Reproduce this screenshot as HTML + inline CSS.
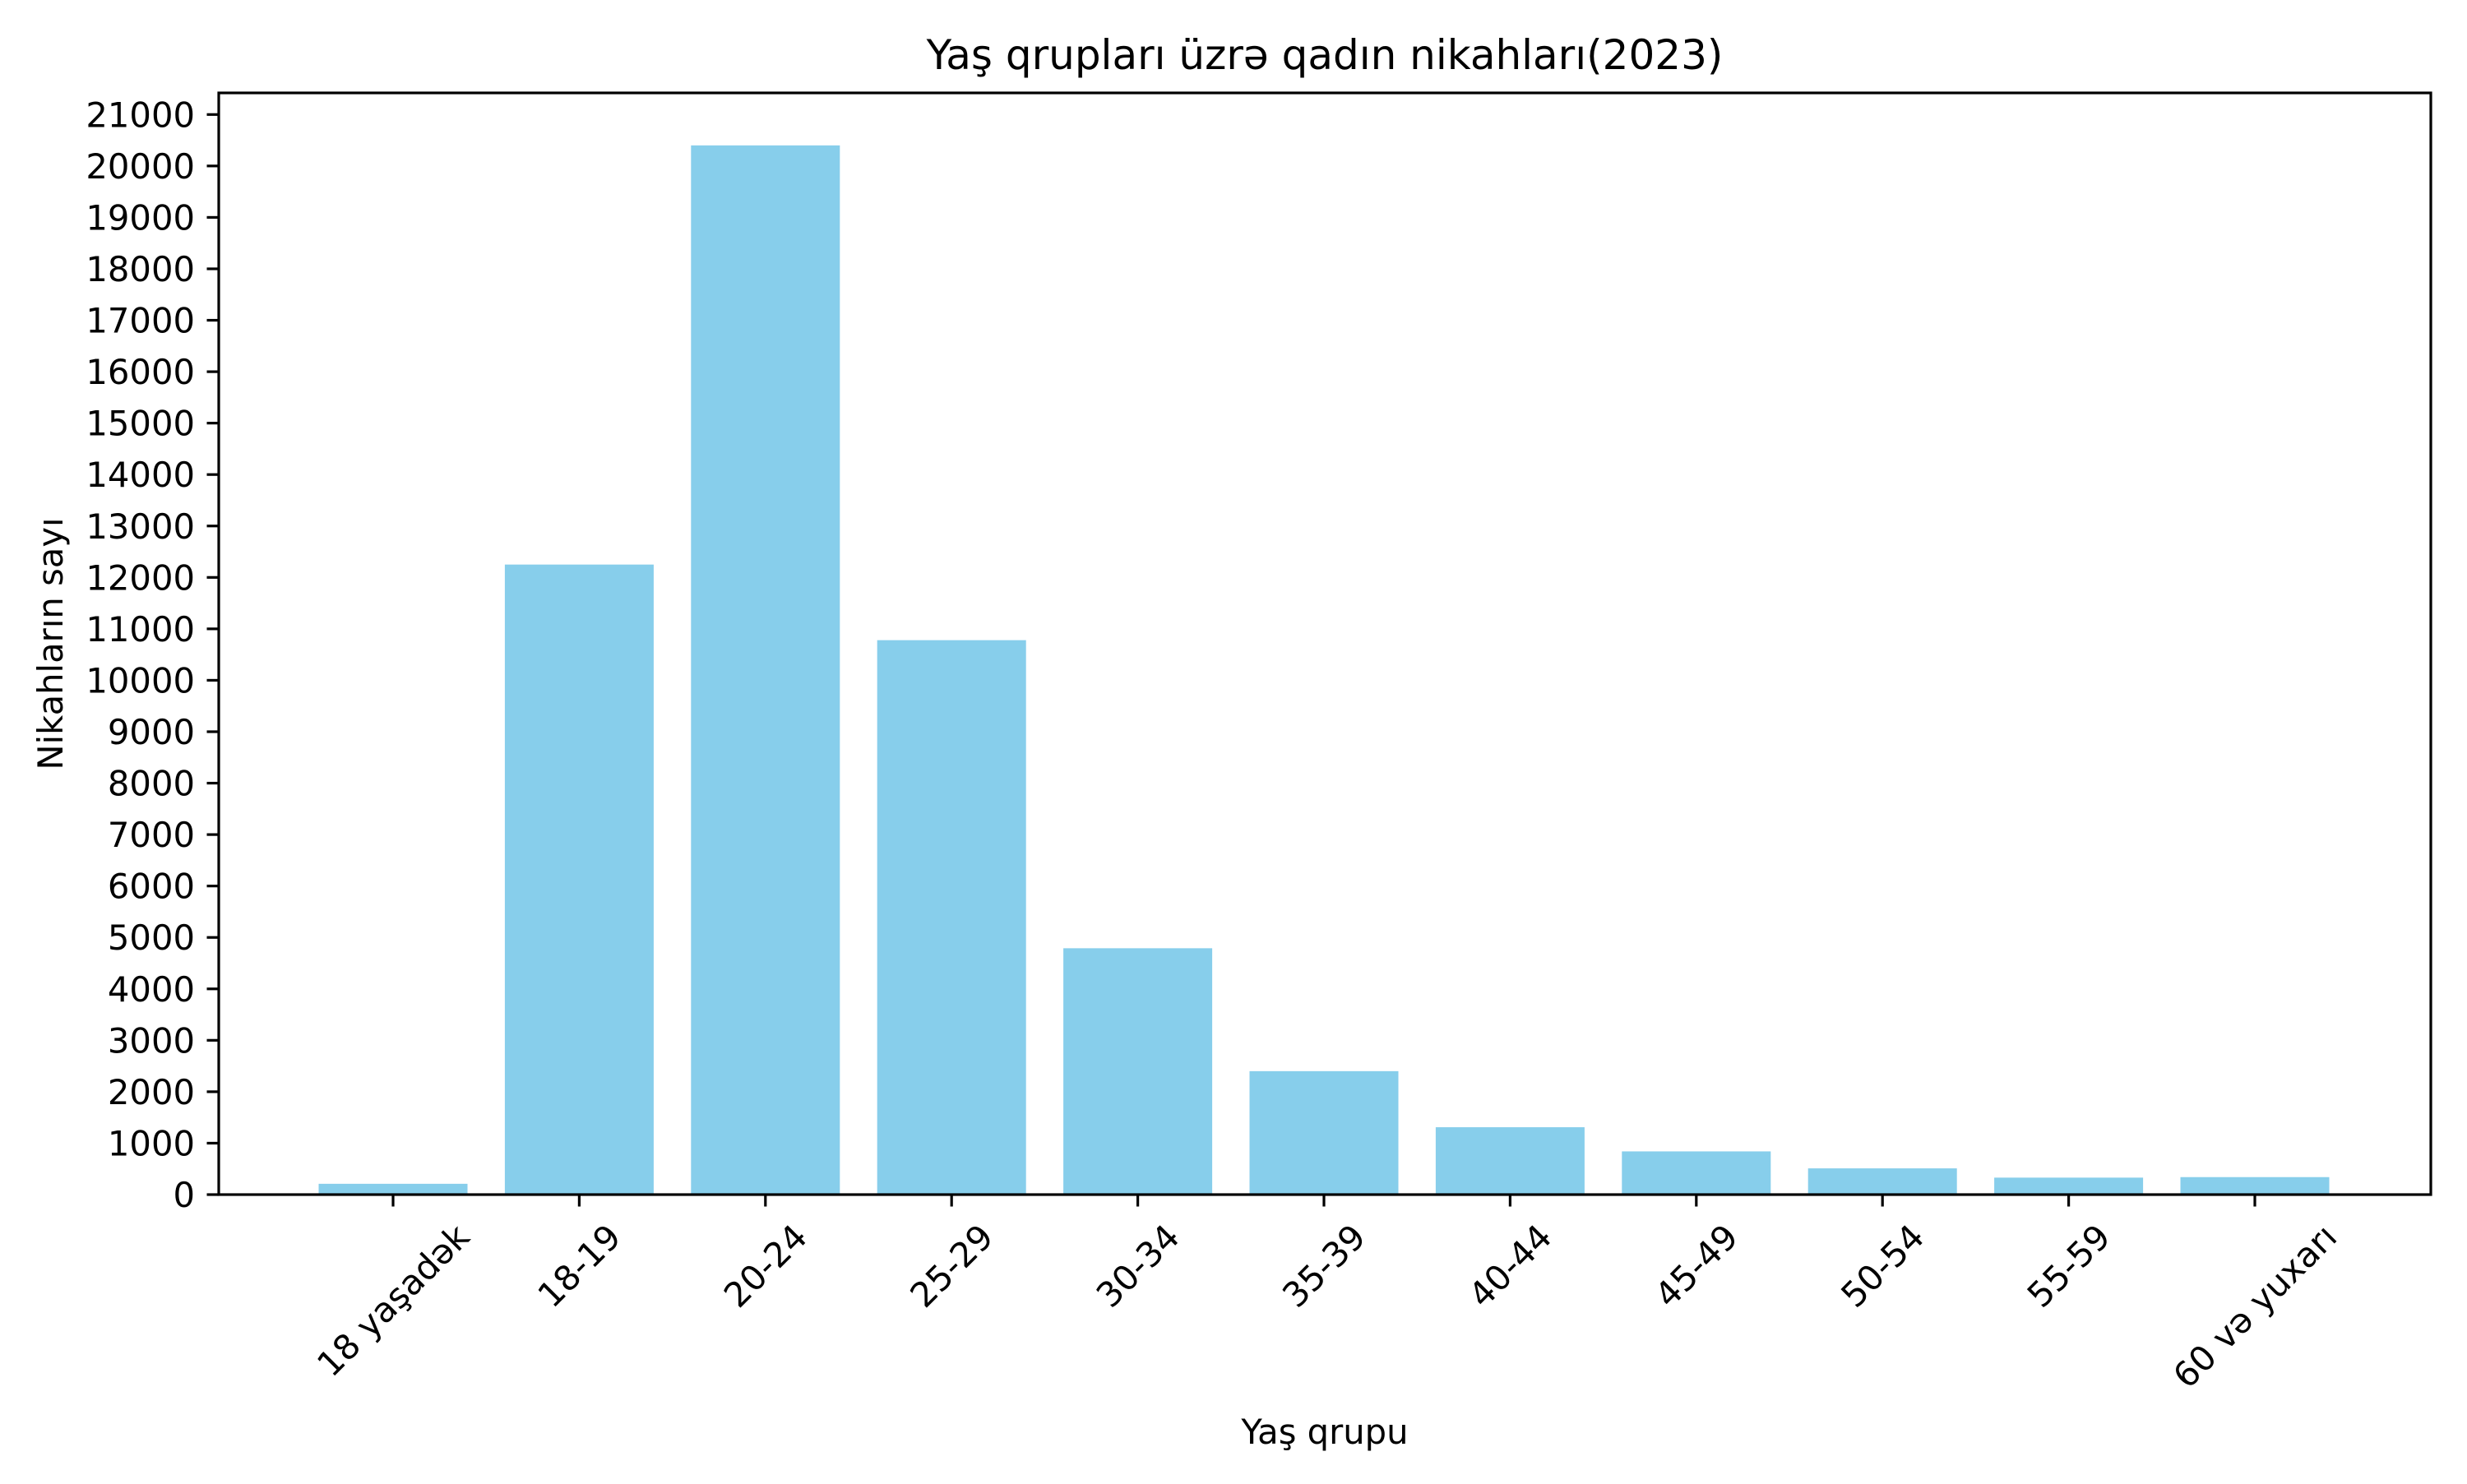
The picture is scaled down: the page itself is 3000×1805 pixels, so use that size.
<!DOCTYPE html>
<html><head><meta charset="utf-8"><style>
html,body{margin:0;padding:0;background:#fff;}
svg text{font-family:"DejaVu Sans","Liberation Sans",sans-serif;fill:#000;}
</style></head><body>
<svg id="chart" width="3000" height="1800" xmlns="http://www.w3.org/2000/svg">
<rect width="3000" height="1800" fill="#fff"/>
<text x="1611" y="84" font-size="50" text-anchor="middle">Yaş qrupları üzrə qadın nikahları(2023)</text>
<g id="bars"></g>
<g id="yticks"></g>
<g id="xticks"></g>
<rect x="266" y="113" width="2690" height="1340" fill="none" stroke="#000" stroke-width="3.2"/>
<text x="1611" y="1756" font-size="41.7" text-anchor="middle">Yaş qrupu</text>
<text transform="translate(76,783) rotate(-90)" font-size="41.7" text-anchor="middle">Nikahların sayı</text>
</svg>
<script>
const categories = ["18 yaşadək","18-19","20-24","25-29","30-34","35-39","40-44","45-49","50-54","55-59","60 və yuxarı"];
const values = [210,12250,20400,10780,4790,2400,1310,840,510,330,340];
const yTicks = [0,1000,2000,3000,4000,5000,6000,7000,8000,9000,10000,11000,12000,13000,14000,15000,16000,17000,18000,19000,20000,21000];

const NS="http://www.w3.org/2000/svg";
const y0=1453, yTop=139.3, yMaxVal=21000;
function yScale(v){return y0-(v/yMaxVal)*(y0-yTop);}
const xFirst=478, step=226.4, barW=181;
function xScale(i){return xFirst+i*step;}

const bars=document.getElementById('bars');
values.forEach((v,i)=>{
  const r=document.createElementNS(NS,'rect');
  
  
  r.setAttribute('x',xScale(i)-barW/2);
  r.setAttribute('y',yScale(v));
  r.setAttribute('width',barW);
  r.setAttribute('height',y0-yScale(v));
  r.setAttribute('fill','#87ceeb');
  bars.appendChild(r);
});

const yt=document.getElementById('yticks');
yTicks.forEach(t=>{
  const y=yScale(t);
  const l=document.createElementNS(NS,'line');
  
  
  l.setAttribute('x1',266);l.setAttribute('x2',251.5);
  l.setAttribute('y1',y);l.setAttribute('y2',y);
  l.setAttribute('stroke','#000');l.setAttribute('stroke-width','3.2');
  yt.appendChild(l);
  const tx=document.createElementNS(NS,'text');
  
  
  tx.setAttribute('x',237);tx.setAttribute('y',y+15);
  tx.setAttribute('font-size','41.7');tx.setAttribute('text-anchor','end');
  tx.textContent=t;
  yt.appendChild(tx);
});

const xt=document.getElementById('xticks');
categories.forEach((c,i)=>{
  const x=xScale(i);
  const l=document.createElementNS(NS,'line');
  
  
  l.setAttribute('x1',x);l.setAttribute('x2',x);
  l.setAttribute('y1',1453);l.setAttribute('y2',1467.5);
  l.setAttribute('stroke','#000');l.setAttribute('stroke-width','3.2');
  xt.appendChild(l);
  const tx=document.createElementNS(NS,'text');
  
  
  tx.setAttribute('font-size','41.7');tx.setAttribute('text-anchor','middle');
  tx.textContent=c;
  xt.appendChild(tx);
  const w=tx.getComputedTextLength();
  const h=41.7;
  const bh=(w+h)*Math.SQRT1_2;
  const cy=1482+bh/2;
  tx.setAttribute('x',0);tx.setAttribute('y',h*0.35);
  tx.setAttribute('transform','translate('+x+','+cy+') rotate(-45)');
});
</script>
</body></html>
